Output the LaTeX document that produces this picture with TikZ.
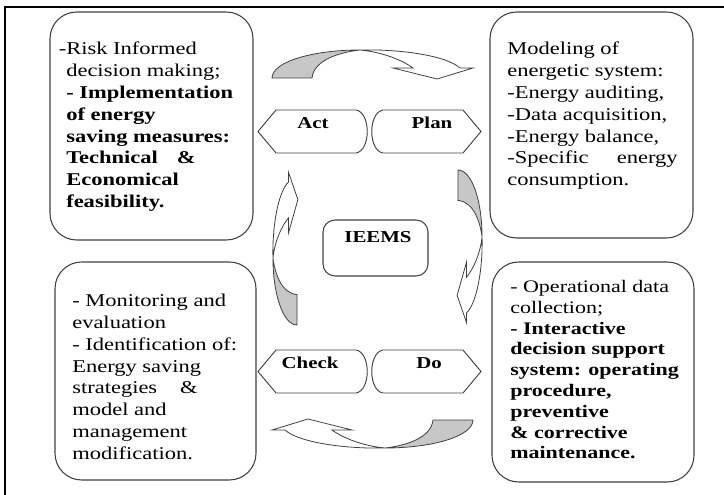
\documentclass[tikz,border=0pt]{standalone}
\usepackage{fontspec}
\setmainfont{Liberation Serif}[FakeStretch=1.25]

\begin{document}
\begin{tikzpicture}[x=0.75pt, y=-0.75pt,
    infobox/.style={draw=black!75, line width=0.8pt, rounded corners=20pt},
    boxtext/.style={anchor=north west, inner sep=0pt, align=left, font=\fontsize{13.5}{16.35}\selectfont},
    tagtext/.style={inner sep=0pt, font=\fontsize{12.5}{15}\selectfont\bfseries},
    tagshape/.pic={
        \draw[draw=black!75, line width=0.7pt] (-55,0) -- (-37,-21.5) -- (43,-21.5)
            .. controls (58,-19) and (58,19) .. (43,21.5) -- (-37,21.5) -- cycle;
    },
    cyclearrow/.pic={
        % underside of the tail
        \filldraw[fill=black!22, draw=black!75, line width=0.6pt]
            (-100,14) .. controls (-100,-2) and (-60,-14) .. (-12,-14)
            .. controls (-30,-12) and (-58,-5) .. (-60,14) -- cycle;
        % body and head
        \filldraw[fill=white, draw=black!75, line width=0.6pt]
            (-12,-14) .. controls (30,-15) and (75,-8) .. (88,4) -- (101,4) -- (65,15)
            -- (21,4) -- (41,4) .. controls (30,-4) and (10,-12) .. (-12,-14) -- cycle;
    }]
    \useasboundingbox (0,0) rectangle (724,495);

    % frame
    \draw[line width=1.6pt] (5,495) -- (5,7) -- (724,7);

    % the four text boxes
    \draw[infobox] (50,12) rectangle (253,240);
    \draw[infobox] (490,12) rectangle (693,238);
    \draw[infobox] (55,262) rectangle (256,480);
    \draw[infobox] (492,262) rectangle (694,482);

    \node[boxtext] (acttext) at (66,42) {\llap{-}Risk Informed\\
        decision making;\\
        \textbf{- Implementation}\\
        \textbf{of energy}\\
        \textbf{saving measures:}\\
        \textbf{Technical\hspace{10pt} \&}\\
        \textbf{Economical}\\
        \textbf{feasibility.}};
    \node[boxtext] (plantext) at (507,42) {Modeling of\\
        energetic system:\\
        -Energy auditing,\\
        -Data acquisition,\\
        -Energy balance,\\
        -Specific\hspace{17pt} energy\\
        consumption.};
    \node[boxtext] (checktext) at (72,294) {- Monitoring and\\
        evaluation\\
        - Identification of:\\
        Energy saving\\
        strategies\hspace{13pt} \&\\
        model and\\
        management\\
        modification.};
    \node[boxtext, font=\fontsize{13.2}{15.6}\selectfont] (dotext) at (510,280) {- Operational data\\
        collection;\\
        \textbf{- Interactive}\\
        \textbf{decision support}\\
        \textbf{system: operating}\\
        \textbf{procedure,}\\
        \textbf{preventive}\\
        \textbf{\& corrective}\\
        \textbf{maintenance.}};

    % PDCA tags
    \pic at (313,131.5) {tagshape};
    \pic[xscale=-1] at (426,131.5) {tagshape};
    \pic at (313,371.5) {tagshape};
    \pic[xscale=-1] at (426,371.5) {tagshape};
    \node[tagtext] (act) at (313,123) {Act};
    \node[tagtext] (plan) at (432,123) {Plan};
    \node[tagtext] (check) at (310,363) {Check};
    \node[tagtext] (do) at (429,363) {Do};

    % centre
    \draw[infobox, rounded corners=9pt] (323,220) rectangle (428,276);
    \node[tagtext] (ieems) at (378,237) {IEEMS};

    % cycle arrows
    \pic at (372,64) {cyclearrow};
    \pic[rotate=-90, xscale=0.76, yscale=0.86] at (470,246) {cyclearrow};
    \pic[rotate=180] at (373,434) {cyclearrow};
    \pic[rotate=90, xscale=0.76, yscale=0.86] at (285,249) {cyclearrow};
\end{tikzpicture}
\end{document}
